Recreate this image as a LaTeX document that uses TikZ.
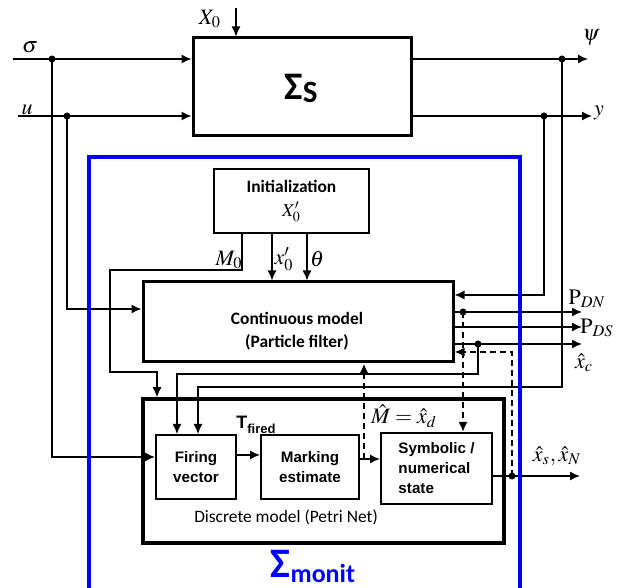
\documentclass[tikz,border=0pt]{standalone}
\usepackage{mathptmx}
\usepackage{fontspec}
\setmainfont{Carlito}
\newfontfamily\arialfont{Liberation Sans}
\usetikzlibrary{arrows.meta}

\begin{document}
\begin{tikzpicture}[x=0.5pt,y=-0.5pt,line width=0.7pt,>={Latex[length=5pt,width=4.5pt]}]
  \tikzstyle{block}=[draw,rectangle,inner sep=0pt,line width=1.5pt]
  \tikzstyle{subblock}=[draw,rectangle,inner sep=0pt,line width=1pt,align=center,font=\arialfont\bfseries\fontsize{7.6}{10}\selectfont]
  \tikzstyle{junction}=[circle,fill=black,inner sep=0pt,minimum size=3.5pt]
  \tikzstyle{lbl}=[inner sep=0pt,font=\fontsize{11}{13}\selectfont]
  \tikzstyle{fb}=[dashed,dash pattern=on 3pt off 2pt,line width=1pt]
  \useasboundingbox (0,0) rectangle (623,588);

  % plant
  \node[block,minimum width=109pt,minimum height=49pt] (sys) at (302,87) {};
  \node[lbl,font=\bfseries] (sigmaS) at (301,88) {\fontsize{19.5}{20}\selectfont Σ\raisebox{-1.5pt}{\fontsize{15.5}{16}\selectfont S}};

  % monitor blocks
  \node[block,line width=1.25pt,minimum width=77.5pt,minimum height=32pt,align=center,font=\bfseries\fontsize{8.7}{10}\selectfont] (init) at (291.5,201) {Initialization\\[2pt]\normalfont\fontsize{9}{10}\selectfont$X_0'$};
  \node[block,minimum width=155pt,minimum height=40pt] (cont) at (298,322) {};
  \node[lbl,align=center,font=\bfseries\fontsize{8.7}{11.5}\selectfont] (contlbl) at (297,331) {Continuous model\\(Particle filter)};
  \node[block,line width=1.75pt,minimum width=180.5pt,minimum height=72pt] (disc) at (323.5,471) {};
  \node[lbl,font=\fontsize{8.7}{10}\selectfont] (disclbl) at (286,517) {Discrete model (Petri Net)};
  \node[subblock,minimum width=40pt,minimum height=32pt] (fire) at (196,467) {Firing\\vector};
  \node[subblock,minimum width=49pt,minimum height=32pt] (mark) at (310,467) {Marking\\estimate};
  \node[subblock,minimum width=55.5pt,minimum height=35.5pt,align=left] (symb) at (436.5,468.5) {Symbolic /\\numerical\\state};
  \node[lbl,font=\arialfont\bfseries\fontsize{9}{10}\selectfont] (tfired) at (256,425) {T\raisebox{-2.5pt}{\fontsize{6.5}{7}\selectfont fired}};

  % labels
  \node[lbl] (lsigma) at (30,47) {$\sigma$};
  \node[lbl] (lu) at (27,110) {$u$};
  \node[lbl] (lx0) at (210,19) {$X_0$};
  \node[lbl] (lpsi) at (591,38) {$\psi$};
  \node[lbl] (ly) at (599,113) {$y$};
  \node[lbl] (lm0) at (229,260) {$M_0$};
  \node[lbl] (lx0p) at (284,259) {$x_0'$};
  \node[lbl] (ltheta) at (317,259) {$\theta$};
  \node[lbl] (lpdn) at (587,299) {$\mathrm{P}_{DN}$};
  \node[lbl] (lpds) at (597,328) {$\mathrm{P}_{DS}$};
  \node[lbl] (lxc) at (584,363) {$\hat{x}_c$};
  \node[lbl] (lmhat) at (404,416) {$\hat{M}=\hat{x}_d$};
  \node[lbl] (lxs) at (557,456) {$\hat{x}_s,\hat{x}_N$};

  % points on the wires
  \coordinate (sigin) at (13,59);
  \coordinate (sigdot) at (52,59);
  \coordinate (uin) at (18,116);
  \coordinate (udot) at (67,116);
  \coordinate (x0top) at (236,8);
  \coordinate (psidot) at (562,59);
  \coordinate (psiout) at (588,59);
  \coordinate (ydot) at (544,116);
  \coordinate (yout) at (592,116);
  \coordinate (yback) at (544,295);
  \coordinate (uback) at (67,309);
  \coordinate (sigback) at (52,457);
  \coordinate (m0top) at (242,270);
  \coordinate (m0left) at (110,372);
  \coordinate (m0col) at (157,372);
  \coordinate (x0pcol) at (272,250);
  \coordinate (thcol) at (307,250);
  \coordinate (pdndot) at (463,312);
  \coordinate (pdnout) at (582,312);
  \coordinate (pdsout) at (582,327);
  \coordinate (xcdot) at (478,344);
  \coordinate (xcout) at (582,344);
  \coordinate (xcturn) at (177,374);
  \coordinate (psiturn) at (198,387);
  \coordinate (fbturn) at (512,352);
  \coordinate (outdot) at (512,476);
  \coordinate (sout) at (580,476);
  \coordinate (fmrow) at (248,455);
  \coordinate (msrow) at (370,459);
  \coordinate (mhat) at (364,459);

  % plant wires
  \draw (sigin) -- (sigdot);
  \draw[->] (sigdot) -- (sigdot -| sys.west);
  \draw (uin) -- (udot);
  \draw[->] (udot) -- (udot -| sys.west);
  \draw[->] (x0top) -- (x0top |- sys.north);
  \draw (sys.east |- psidot) -- (psidot);
  \draw[->] (psidot) -- (psiout);
  \draw (sys.east |- ydot) -- (ydot);
  \draw[->] (ydot) -- (yout);

  % into the monitor
  \draw[->] (ydot) -- (yback) -- (yback -| cont.east);
  \draw[->] (psidot) |- (psiturn) -- (psiturn |- fire.north);
  \draw[->] (udot) -- (uback) -- (uback -| cont.west);
  \draw[->] (sigdot) -- (sigback) -- (sigback -| fire.west);
  \draw[->] (init.south -| m0top) -- (m0top) -| (m0left) -- (m0col) -- (m0col |- disc.north);
  \draw[->] (init.south -| x0pcol) -- (cont.north -| x0pcol);
  \draw[->] (init.south -| thcol) -- (cont.north -| thcol);

  % outputs
  \draw[->] (cont.east |- pdnout) -- (pdnout);
  \draw[->] (cont.east |- pdsout) -- (pdsout);
  \draw[->] (cont.east |- xcout) -- (xcout);
  \draw[->] (xcdot) |- (xcturn) -- (xcturn |- fire.north);
  \draw[->] (fire.east |- fmrow) -- (mark.west |- fmrow);
  \draw[->] (mark.east |- msrow) -- (symb.west |- msrow);
  \draw[->] (symb.east |- sout) -- (sout);

  % dashed feedback
  \draw[fb,->] (pdndot) -- (pdndot |- symb.north);
  \draw[fb,->] (mhat) -- (mhat |- cont.south);
  \draw[fb,->] (outdot) -- (fbturn) -- (fbturn -| cont.east);

  \foreach \p in {sigdot,udot,psidot,ydot,pdndot,xcdot,outdot}
    \node[junction] at (\p) {};

  % monitor frame
  \draw[blue,line width=2pt] (89,592) -- (89,157) -- (520,157) -- (520,592);
  \node[lbl,text=blue,font=\bfseries] (monit) at (313,566) {\fontsize{21}{21}\selectfont Σ\raisebox{-2.5pt}{\fontsize{13}{13}\selectfont monit}};
\end{tikzpicture}
\end{document}
